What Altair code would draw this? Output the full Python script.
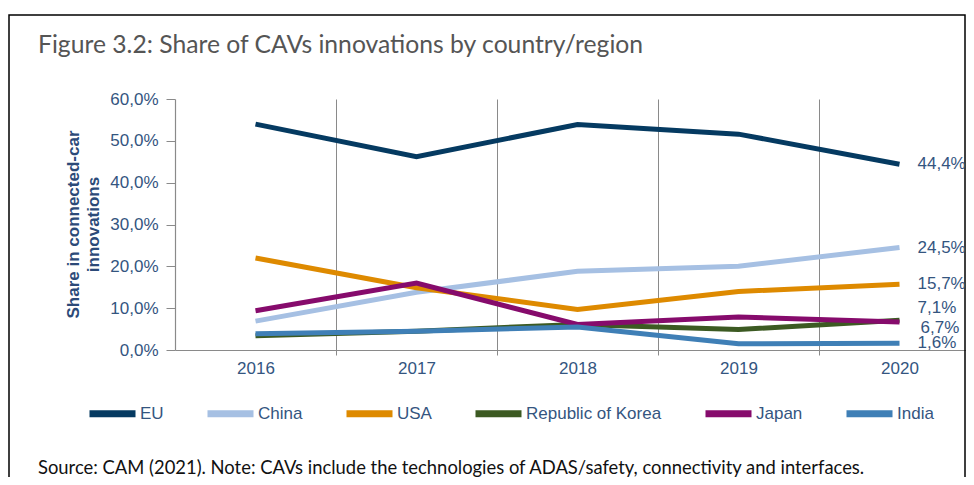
import altair as alt
import pandas as pd

# ---- data ----
years = [2016, 2017, 2018, 2019, 2020]
series = ["EU", "China", "USA", "Republic of Korea", "Japan", "India"]
eu = [54.0, 46.2, 53.9, 51.6, 44.4]
china = [6.9, 13.8, 18.8, 20.0, 24.5]
usa = [22.0, 14.9, 9.7, 14.0, 15.7]
korea = [3.4, 4.5, 6.1, 4.9, 7.1]
japan = [9.4, 16.0, 6.1, 7.9, 6.7]
india = [3.9, 4.5, 5.5, 1.5, 1.6]
colors = ["#053a61", "#a6c0e3", "#de8a00", "#3c5a22", "#860b6c", "#3f7fb6"]
y_ticks = [0, 10, 20, 30, 40, 50, 60]
title_text = "Figure 3.2: Share of CAVs innovations by country/region"
source_text = ("Source: CAM (2021). Note: CAVs include the technologies of "
               "ADAS/safety, connectivity and interfaces.")
y_title = ["Share in connected-car", "innovations"]

values = [eu, china, usa, korea, japan, india]
rows = []
for s, vals in zip(series, values):
    for yr, v in zip(years, vals):
        rows.append({"series": s, "year": yr, "value": v})
df = pd.DataFrame(rows)

boundaries = [y + 0.5 for y in years[:-1]]
x_axis_vals = sorted(years + boundaries)

TEXT_BLUE = "#34557f"
GRID = "#8a8a8a"

x_enc = alt.X(
    "year:Q",
    scale=alt.Scale(domain=[2015.5, 2020.413], nice=False, zero=False),
    axis=alt.Axis(
        values=x_axis_vals,
        title=None,
        labelExpr="datum.value % 1 === 0 ? datum.value : ''",
        labelOverlap=False,
        labelFlush=False,
        labelFont="Liberation Sans",
        labelFontSize=17,
        labelColor=TEXT_BLUE,
        labelPadding=5,
        grid=True,
        gridColor=GRID,
        gridWidth=1,
        gridOpacity={"condition": {"test": "datum.value % 1 !== 0", "value": 1}, "value": 0},
        tickOpacity={"condition": {"test": "datum.value % 1 !== 0", "value": 1}, "value": 0},
        tickColor=GRID,
        tickSize=5,
        domainColor=GRID,
        domainWidth=1.2,
    ),
)
y_enc = alt.Y(
    "value:Q",
    scale=alt.Scale(domain=[0, 60], nice=False),
    axis=alt.Axis(
        values=y_ticks,
        title=y_title,
        labelExpr="replace(format(datum.value, '.1f'), '.', ',') + '%'",
        labelFont="Liberation Sans",
        labelFontSize=17,
        labelColor=TEXT_BLUE,
        labelPadding=8,
        tickSize=9,
        tickColor=GRID,
        domainColor=GRID,
        domainWidth=1.2,
        grid=False,
        titleFont="Liberation Sans",
        titleFontWeight="bold",
        titleFontSize=17,
        titleColor="#2c4a78",
        titleAngle=-90,
        titleX=-110,
        titleY=125,
        titleAlign="center",
        titleBaseline="top",
        titleLineHeight=20,
    ),
)

base = alt.Chart(df).encode(x=x_enc, y=y_enc)

lines = base.mark_line(strokeWidth=5, strokeJoin="miter").encode(
    color=alt.Color(
        "series:N",
        scale=alt.Scale(domain=series, range=colors),
        legend=alt.Legend(
            title=None,
            orient="none",
            legendX=-89,
            legendY=288,
            direction="horizontal",
            columns=6,
            columnPadding=29,
            padding=0,
            symbolType="stroke",
            symbolSize=2116,
            symbolStrokeWidth=7,
            symbolOpacity=1,
            labelFont="Liberation Sans",
            labelFontSize=17,
            labelColor=TEXT_BLUE,
            labelOffset=1,
        ),
    )
)

last_year = years[-1]
label_base = base.transform_filter(alt.datum.year == last_year).transform_calculate(
    lbl="replace(format(datum.value, '.1f'), '.', ',') + '%'"
)
txt_kw = dict(align="left", baseline="middle", font="Liberation Sans", fontSize=17, color=TEXT_BLUE)
labels_main = label_base.transform_filter(
    "datum.series !== 'Republic of Korea' && datum.series !== 'Japan'"
).mark_text(dx=18, **txt_kw).encode(text="lbl:N")
labels_korea = label_base.transform_filter("datum.series === 'Republic of Korea'").mark_text(
    dx=18, dy=-12, **txt_kw).encode(text="lbl:N")
labels_japan = label_base.transform_filter("datum.series === 'Japan'").mark_text(
    dx=21, dy=6, **txt_kw).encode(text="lbl:N")

one = alt.Data(values=[{"t": title_text, "s": source_text}])
title_mark = alt.Chart(one).mark_text(
    align="left", baseline="alphabetic", font="Lato", fontSize=24.7, color="#555555"
).encode(text="t:N", x=alt.value(-137), y=alt.value(-46))
source_mark = alt.Chart(one).mark_text(
    align="left", baseline="alphabetic", font="Lato", fontSize=18.4, color="#111111"
).encode(text="s:N", x=alt.value(-137), y=alt.value(375))
frame = alt.Chart(one).mark_rect(fillOpacity=0, stroke="#000000", strokeWidth=1.5).encode(
    x=alt.value(-166), x2=alt.value(790), y=alt.value(-84), y2=alt.value(400)
)

chart = alt.layer(
    frame, lines, labels_main, labels_korea, labels_japan, title_mark, source_mark
).properties(
    width=791,
    height=251,
    autosize=alt.AutoSizeParams(type="none"),
    padding={"left": 167, "top": 91, "right": 0, "bottom": 127},
).configure_view(strokeWidth=0)

chart.save("out.html", embed_options={"renderer": "svg", "actions": False})
